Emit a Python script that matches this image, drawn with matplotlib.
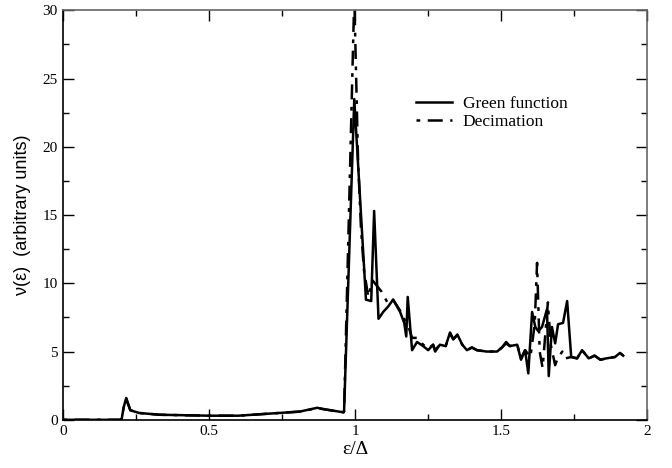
import matplotlib
matplotlib.use("Agg")
import matplotlib.pyplot as plt
from matplotlib.ticker import MultipleLocator

# Green function curve
green_x = [0.0, 0.2, 0.207, 0.216, 0.23, 0.26, 0.33, 0.5, 0.6, 0.74, 0.81, 0.87, 0.9, 0.96,
           0.962, 0.997, 1.037, 1.055, 1.065, 1.08, 1.096, 1.113, 1.13, 1.154, 1.168, 1.175,
           1.18, 1.195, 1.212, 1.233, 1.25, 1.267, 1.274, 1.29, 1.31, 1.325, 1.336, 1.35,
           1.367, 1.383, 1.4, 1.417, 1.45, 1.486, 1.503, 1.517, 1.53, 1.555, 1.568, 1.582,
           1.593, 1.606, 1.617, 1.627, 1.64, 1.657, 1.663, 1.674, 1.685, 1.695, 1.712, 1.726,
           1.74, 1.76, 1.777, 1.8, 1.82, 1.84, 1.86, 1.89, 1.907, 1.918]
green_y = [0.0, 0.0, 0.9, 1.6, 0.7, 0.5, 0.37, 0.3, 0.3, 0.5, 0.6, 0.88, 0.75, 0.55,
           0.6, 23.5, 8.8, 8.7, 15.3, 7.4, 7.9, 8.3, 8.8, 7.9, 7.1, 6.1,
           9.0, 5.1, 5.7, 5.4, 5.1, 5.5, 5.0, 5.5, 5.4, 6.4, 5.9, 6.25,
           5.5, 5.1, 5.3, 5.1, 5.0, 5.0, 5.3, 5.7, 5.4, 5.5, 4.4, 5.1,
           3.4, 7.9, 6.8, 6.5, 6.8, 8.1, 3.2, 6.8, 5.6, 7.0, 7.1, 8.7,
           4.6, 4.5, 5.1, 4.5, 4.7, 4.4, 4.5, 4.6, 4.9, 4.7]

# Decimation curve
dec_x = [0.0, 0.2, 0.207, 0.216, 0.23, 0.26, 0.33, 0.5, 0.6, 0.74, 0.81, 0.87, 0.9, 0.96,
         0.962, 0.997, 1.01, 1.02, 1.03, 1.045, 1.06, 1.075, 1.09, 1.113, 1.13, 1.154,
         1.17, 1.18, 1.195, 1.212, 1.233, 1.25, 1.267, 1.274, 1.29, 1.31, 1.325, 1.336,
         1.35, 1.367, 1.383, 1.4, 1.417, 1.45, 1.486, 1.503, 1.517, 1.53, 1.555, 1.568,
         1.582, 1.6, 1.615, 1.623, 1.632, 1.642, 1.66, 1.67, 1.685, 1.695, 1.71, 1.72,
         1.74, 1.76, 1.777, 1.8, 1.82, 1.84, 1.86, 1.89, 1.907, 1.918]
dec_y = [0.0, 0.0, 0.9, 1.5, 0.7, 0.5, 0.37, 0.3, 0.3, 0.5, 0.6, 0.85, 0.75, 0.55,
         0.6, 31.0, 19.0, 14.0, 11.0, 9.0, 10.2, 9.8, 9.4, 8.5, 8.8, 8.0,
         7.3, 7.0, 6.0, 6.0, 5.5, 5.2, 5.5, 5.1, 5.5, 5.4, 6.3, 5.9,
         6.2, 5.5, 5.1, 5.3, 5.1, 5.0, 5.0, 5.3, 5.6, 5.4, 5.5, 4.5,
         5.1, 4.6, 7.0, 11.5, 5.0, 3.8, 8.6, 5.5, 4.0, 4.6, 5.0, 4.5,
         4.6, 4.5, 5.1, 4.5, 4.7, 4.4, 4.5, 4.6, 4.9, 4.7]

series_labels = ["Green function", "Decimation"]
x_ticks = [0, 0.5, 1, 1.5, 2]
x_tick_labels = ["0", "0.5", "1", "1.5", "2"]
y_ticks = [0, 5, 10, 15, 20, 25, 30]

fig = plt.figure(figsize=(6.72, 4.68), dpi=100)
ax = fig.add_axes([0.094, 0.103, 0.869, 0.875])

ax.plot(green_x, green_y, color="black", lw=1.8, ls="-", label=series_labels[0])
ax.plot(dec_x, dec_y, color="black", lw=1.8, ls=(9, (6, 3, 1.5, 3)), label=series_labels[1])

ax.set_xlim(0, 2)
ax.set_ylim(0, 30)
ax.set_xticks(x_ticks)
ax.set_xticklabels(x_tick_labels)
ax.set_yticks(y_ticks)
ax.xaxis.set_minor_locator(MultipleLocator(0.25))
ax.yaxis.set_minor_locator(MultipleLocator(2.5))
ax.tick_params(which="both", direction="in", top=True, right=True, labelsize=11, pad=4)
ax.tick_params(which="major", length=8, width=1)
ax.tick_params(which="minor", length=4, width=1)
for lab in ax.get_xticklabels() + ax.get_yticklabels():
    lab.set_fontfamily("Liberation Serif")

for s in ["left", "bottom"]:
    ax.spines[s].set_color("black")
    ax.spines[s].set_linewidth(1.2)
for s in ["top", "right"]:
    ax.spines[s].set_color("#666666")
    ax.spines[s].set_linewidth(1.2)

ax.set_xlabel("ε/Δ", fontfamily="Liberation Serif", fontsize=14, labelpad=2)
ax.set_ylabel("ν(ε)  (arbitrary units)", fontfamily="Liberation Sans", fontsize=13, labelpad=8)

leg = ax.legend(loc="upper left", bbox_to_anchor=(0.577, 0.83), frameon=False,
                prop={"family": "Liberation Serif", "size": 12.5},
                handlelength=2.1, handletextpad=0.6, labelspacing=0.15)

fig.savefig("out.png", dpi=100)
